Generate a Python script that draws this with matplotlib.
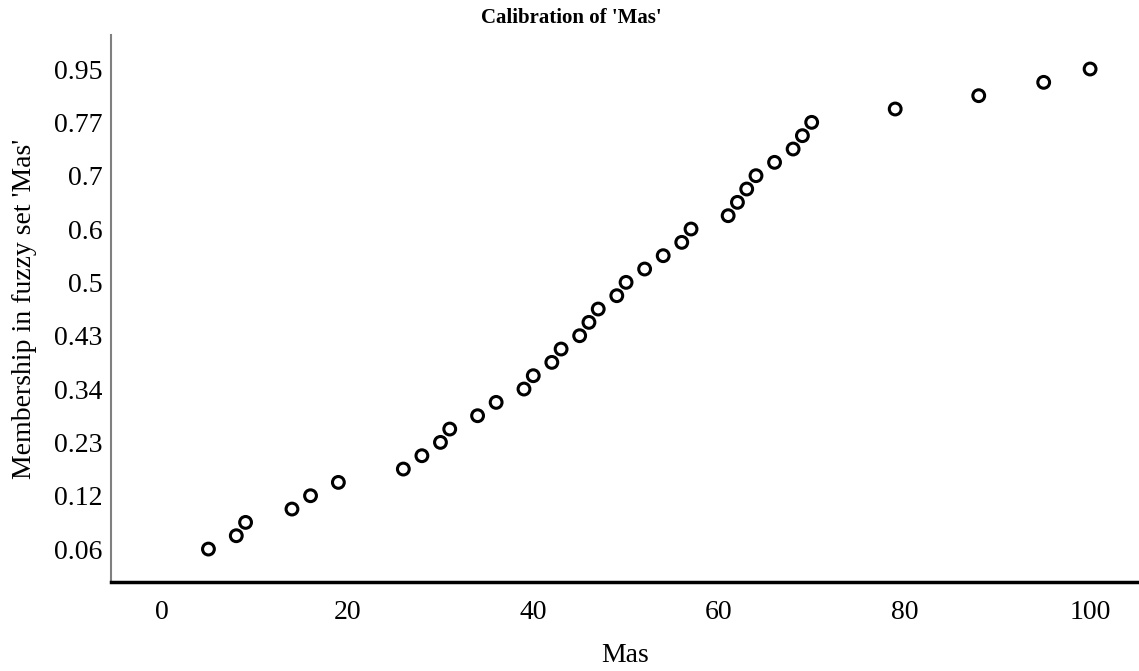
import matplotlib
matplotlib.use("Agg")
import matplotlib.pyplot as plt

# Raw values of 'Mas' (x) and their calibrated membership (categorical y axis)
mas = [5, 8, 9, 14, 16, 19, 26, 28, 30, 31, 34, 36, 39, 40, 42, 43, 45, 46, 47,
       49, 50, 52, 54, 56, 57, 61, 62, 63, 64, 66, 68, 69, 70, 79, 88, 95, 100]
membership = ["0.06", "0.07", "0.08", "0.1", "0.12", "0.15", "0.19", "0.21", "0.23",
              "0.25", "0.28", "0.31", "0.34", "0.36", "0.39", "0.41", "0.43", "0.45",
              "0.47", "0.49", "0.5", "0.52", "0.55", "0.58", "0.6", "0.64", "0.66",
              "0.68", "0.7", "0.72", "0.75", "0.76", "0.77", "0.85", "0.9", "0.93", "0.95"]
shown_labels = ["0.06", "0.12", "0.23", "0.34", "0.43", "0.5", "0.6", "0.7", "0.77", "0.95"]
x_ticks = [0, 20, 40, 60, 80, 100]

plt.rcParams['font.family'] = ['Liberation Serif', 'DejaVu Serif']

fig = plt.figure(figsize=(11.39, 6.71), dpi=100)
ax = fig.add_axes([111/1139, 1-582/671, 1-111/1139, (582-35)/671])

ax.scatter(mas, membership, s=72, facecolors='none', edgecolors='black', linewidths=2.2, zorder=3)

ax.set_xlim(-5.5, 105.27)
ax.set_ylim(-2.47, 38.55)
ax.set_xticks(x_ticks)
ax.set_xticklabels([str(t) for t in x_ticks], fontsize=20)
ax.set_yticks(shown_labels)
ax.set_yticklabels(shown_labels, fontsize=20)
ax.tick_params(axis='x', length=0, pad=13)
ax.tick_params(axis='y', length=0, pad=6)

for s in ['top', 'right']:
    ax.spines[s].set_visible(False)
ax.spines['left'].set_color('#808080')
ax.spines['left'].set_linewidth(1.5)
ax.spines['bottom'].set_color('black')
ax.spines['bottom'].set_linewidth(2.5)

ax.set_xlabel("Mas", fontsize=20, labelpad=13)
ax.set_ylabel("Membership in fuzzy set 'Mas'", fontsize=20, labelpad=12)
fig.text(0.502, 1-18/671, "Calibration of 'Mas'", ha='center', va='center',
         fontsize=15, fontweight='bold')

fig.savefig("out.png", dpi=100)
